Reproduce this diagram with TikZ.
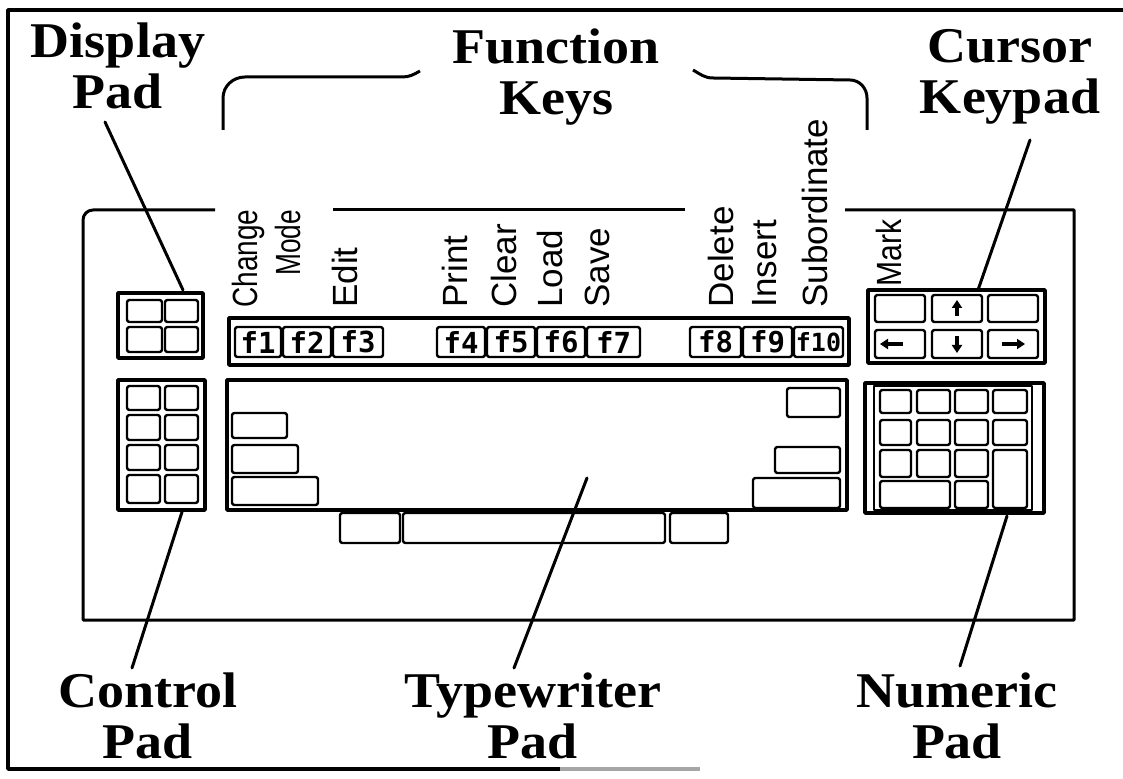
\documentclass[tikz,border=0pt]{standalone}
\usepackage{fontspec}
\setmainfont{Liberation Serif}
\newfontfamily\keyfont{Liberation Sans}
\newfontfamily\fkfont{DejaVu Sans Mono}
\usetikzlibrary{arrows.meta}
% style, name, x1, y1, x2, y2, text   (pixel coordinates, y downwards)
\newcommand\kbkey[7]{\node[#1,minimum width={(#5-#3)*0.5pt},minimum height={(#6-#4)*0.5pt}] (#2) at ({(#3+#5)/2},{(#4+#6)/2}) {#7};}
\begin{document}
\begin{tikzpicture}[x=0.5pt,y=-0.5pt,
  line join=round,
  frame/.style={line width=1.7pt},
  bodyline/.style={line width=1.5pt},
  leader/.style={line width=1.5pt, line cap=round},
  padbox/.style={draw, line width=1.8pt, inner sep=0pt, outer sep=0pt},
  innerbox/.style={draw, line width=0.8pt, inner sep=0pt, outer sep=0pt},
  keybox/.style={draw, line width=1.2pt, rounded corners=1.2pt, inner sep=0pt, outer sep=0pt},
  fkey/.style={keybox, font=\fkfont\bfseries\fontsize{14.5}{14.5}\selectfont},
  biglabel/.style={font=\bfseries\fontsize{25}{25.5}\selectfont, align=center, inner sep=0pt, xscale=1.08},
  fnlabel/.style={font=\keyfont\fontsize{17.5}{17.5}\selectfont, rotate=90, anchor=base west, inner sep=0pt},
  arrowkey/.style={line width=1.6pt, -{Triangle[length=4pt,width=5pt]}},
]
\useasboundingbox (0,0) rectangle (1123,779);

% outer frame
\draw[frame] (1123,10) -- (8,10) -- (8,769) -- (560,769);
\draw[frame, black!35] (560,769) -- (700,769);

% keyboard body
\draw[bodyline] (215,210) [rounded corners=5pt] -- (83,210) [sharp corners] -- (83,620) -- (1074,620) -- (1074,210) -- (845,210);
\draw[bodyline] (333,210) -- (685,210);

% brace of the function keys
\draw[bodyline] (223,130) -- (223,98) to[out=90,in=180] (245,77) -- (402,77) to[out=0,in=210] (420,71);
\draw[bodyline] (693,70) to[out=-30,in=180] (713,78) -- (850,80) to[out=0,in=90] (867,98) -- (867,130);

% labels
\node[biglabel] (lblDisplay) at (118,66) {Display\\Pad};
\node[biglabel] (lblFunction) at (556,77) {Function\\Keys};
\node[biglabel] (lblCursor) at (1010,77) {Cursor\\Keypad};
\node[biglabel] (lblControl) at (148,716) {Control\\Pad};
\node[biglabel] (lblTypewriter) at (533,716) {Typewriter\\Pad};
\node[biglabel] (lblNumeric) at (957,716) {Numeric\\Pad};

% display pad
\kbkey{padbox}{dpad}{118}{293}{203}{358}{}
\kbkey{keybox}{d1}{127}{300}{162}{322}{}
\kbkey{keybox}{d2}{165}{300}{198}{322}{}
\kbkey{keybox}{d3}{127}{327}{162}{352}{}
\kbkey{keybox}{d4}{165}{327}{198}{352}{}

% control pad
\kbkey{padbox}{cpad}{118}{380}{205}{510}{}
\kbkey{keybox}{c1}{127}{386}{160}{410}{}
\kbkey{keybox}{c2}{165}{386}{198}{410}{}
\kbkey{keybox}{c3}{127}{415}{160}{440}{}
\kbkey{keybox}{c4}{165}{415}{198}{440}{}
\kbkey{keybox}{c5}{127}{445}{160}{470}{}
\kbkey{keybox}{c6}{165}{445}{198}{470}{}
\kbkey{keybox}{c7}{127}{475}{160}{503}{}
\kbkey{keybox}{c8}{165}{475}{198}{503}{}

% function key strip
\kbkey{padbox}{fstrip}{229}{318}{849}{365}{}
\kbkey{fkey}{f1}{235}{327}{281}{357}{f1}
\kbkey{fkey}{f2}{283}{327}{331}{357}{f2}
\kbkey{fkey}{f3}{333}{327}{383}{357}{f3}
\kbkey{fkey}{f4}{437}{327}{485}{357}{f4}
\kbkey{fkey}{f5}{487}{327}{535}{357}{f5}
\kbkey{fkey}{f6}{537}{327}{585}{357}{f6}
\kbkey{fkey}{f7}{587}{327}{640}{357}{f7}
\kbkey{fkey}{f8}{690}{327}{741}{357}{f8}
\kbkey{fkey}{f9}{743}{327}{792}{357}{f9}
\kbkey{fkey, font=\fkfont\bfseries\fontsize{12.5}{12.5}\selectfont}{f10}{794}{327}{843}{357}{f10}

% function key names
\node[fnlabel, xscale=0.8] (nChange) at (257,308) {Change};
\node[fnlabel, xscale=0.75] (nMode) at (300,276) {Mode};
\node[fnlabel] (nEdit) at (357,308) {Edit};
\node[fnlabel] (nPrint) at (467,308) {Print};
\node[fnlabel] (nClear) at (516,308) {Clear};
\node[fnlabel] (nLoad) at (562,308) {Load};
\node[fnlabel] (nSave) at (609,308) {Save};
\node[fnlabel] (nDelete) at (733,308) {Delete};
\node[fnlabel] (nInsert) at (776,308) {Insert};
\node[fnlabel] (nSub) at (827,308) {Subordinate};
\node[fnlabel, xscale=0.86] (nMark) at (901,287) {Mark};

% typewriter pad
\kbkey{padbox}{tpad}{227}{380}{847}{510}{}
\kbkey{keybox}{t1}{232}{413}{287}{438}{}
\kbkey{keybox}{t2}{232}{445}{298}{473}{}
\kbkey{keybox}{t3}{232}{477}{318}{505}{}
\kbkey{keybox}{t4}{787}{388}{840}{417}{}
\kbkey{keybox}{t5}{775}{447}{840}{473}{}
\kbkey{keybox}{t6}{753}{478}{840}{508}{}
\kbkey{keybox}{t7}{340}{513}{400}{543}{}
\kbkey{keybox}{tspace}{403}{513}{665}{543}{}
\kbkey{keybox}{t8}{670}{513}{728}{543}{}

% cursor keypad
\kbkey{padbox}{kpad}{868}{290}{1045}{363}{}
\kbkey{keybox}{k1}{875}{295}{925}{322}{}
\kbkey{keybox}{k2}{932}{295}{982}{322}{}
\kbkey{keybox}{k3}{988}{295}{1038}{322}{}
\kbkey{keybox}{k4}{875}{330}{925}{358}{}
\kbkey{keybox}{k5}{932}{330}{982}{358}{}
\kbkey{keybox}{k6}{988}{330}{1038}{358}{}
\draw[arrowkey] (957,316) -- (957,300);
\draw[arrowkey] (957,336) -- (957,353);
\draw[arrowkey] (903,344) -- (880,344);
\draw[arrowkey] (1002,344) -- (1025,344);

% numeric pad
\kbkey{padbox}{npad}{865}{383}{1044}{513}{}
\kbkey{innerbox}{ninner}{874}{386}{1032}{510}{}
\kbkey{keybox}{n1}{880}{390}{911}{413}{}
\kbkey{keybox}{n2}{917}{390}{950}{413}{}
\kbkey{keybox}{n3}{955}{390}{988}{413}{}
\kbkey{keybox}{n4}{993}{390}{1027}{413}{}
\kbkey{keybox}{n5}{880}{420}{911}{445}{}
\kbkey{keybox}{n6}{917}{420}{950}{445}{}
\kbkey{keybox}{n7}{955}{420}{988}{445}{}
\kbkey{keybox}{n8}{993}{420}{1027}{445}{}
\kbkey{keybox}{n9}{880}{450}{911}{477}{}
\kbkey{keybox}{n10}{917}{450}{950}{477}{}
\kbkey{keybox}{n11}{955}{450}{988}{477}{}
\kbkey{keybox}{n12}{993}{450}{1027}{508}{}
\kbkey{keybox}{n13}{880}{481}{950}{508}{}
\kbkey{keybox}{n14}{955}{481}{988}{508}{}

% leader lines
\coordinate (dispFrom) at (105,122);
\coordinate (dispTo) at (183,290);
\coordinate (curFrom) at (1030,140);
\coordinate (curTo) at (978,290);
\coordinate (ctlFrom) at (132,668);
\coordinate (ctlTo) at (182,512);
\coordinate (typFrom) at (514,668);
\coordinate (typTo) at (587,478);
\coordinate (numFrom) at (960,666);
\coordinate (numTo) at (1007,516);
\draw[leader] (dispFrom) -- (dispTo);
\draw[leader] (curFrom) -- (curTo);
\draw[leader] (ctlFrom) -- (ctlTo);
\draw[leader] (typFrom) -- (typTo);
\draw[leader] (numFrom) -- (numTo);
\end{tikzpicture}
\end{document}
